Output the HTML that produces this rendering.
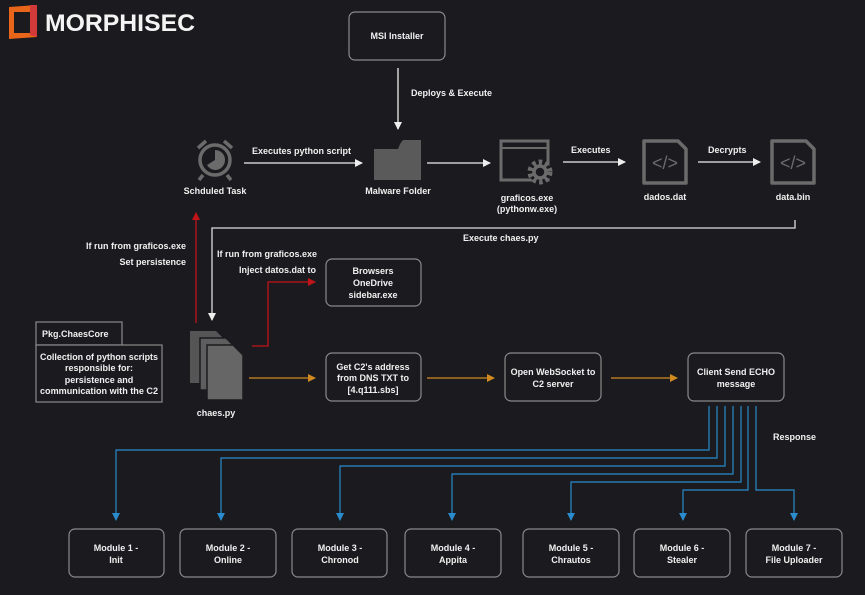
<!DOCTYPE html>
<html><head><meta charset="utf-8"><style>
html,body{margin:0;padding:0;background:#1b1a1e;}
svg{display:block}
text{font-family:"Liberation Sans",sans-serif;fill:#f0f0f0;font-size:9px;font-weight:bold;}
.b{fill:#1b1a1e;stroke:#8a8a8a;stroke-width:1.2}
.c{text-anchor:middle}
</style></head><body>
<svg width="865" height="595" viewBox="0 0 865 595" xmlns="http://www.w3.org/2000/svg">
<defs>
<marker id="aw" markerWidth="8" markerHeight="8" refX="7" refY="4" orient="auto" markerUnits="userSpaceOnUse"><path d="M0,0 L8,4 L0,8z" fill="#eee"/></marker>
<marker id="ar" markerWidth="8" markerHeight="8" refX="7" refY="4" orient="auto" markerUnits="userSpaceOnUse"><path d="M0,0 L8,4 L0,8z" fill="#c0141a"/></marker>
<marker id="ao" markerWidth="8" markerHeight="8" refX="7" refY="4" orient="auto" markerUnits="userSpaceOnUse"><path d="M0,0 L8,4 L0,8z" fill="#d08a20"/></marker>
<marker id="ab" markerWidth="8" markerHeight="8" refX="7" refY="4" orient="auto" markerUnits="userSpaceOnUse"><path d="M0,0 L8,4 L0,8z" fill="#2a8ccc"/></marker>
</defs>
<rect width="865" height="595" fill="#1b1a1e"/>
<!-- logo -->
<path d="M9,7 L37,5 L37,37 L9,39z" fill="#e8651a"/>
<rect x="14" y="12" width="18" height="21" fill="#1b1a1e"/>
<path d="M30,5 L37,5 L37,37 L30,35z" fill="#d23a3a"/>
<text x="45" y="31" textLength="150" lengthAdjust="spacingAndGlyphs" style="font-size:24px;font-weight:bold;fill:#f4f4f4">MORPHISEC</text>

<!-- MSI -->
<rect class="b" x="349" y="12" width="96" height="48" rx="6"/>
<text class="c" x="397" y="39">MSI Installer</text>
<line x1="398" y1="68" x2="398" y2="129" stroke="#eee" stroke-width="1.3" marker-end="url(#aw)"/>
<text x="411" y="96">Deploys &amp; Execute</text>

<!-- clock -->
<g stroke="#6b6b6b" stroke-width="3.5" fill="none">
<circle cx="215" cy="160" r="15"/>
<path d="M198,148 L206,141 M232,148 L224,141 M203,175 L199,180 M227,175 L231,180"/>
</g>
<path d="M215,150 A10,10 0 0 1 215,170 A10,10 0 0 1 207,165 L215,160z" fill="#6b6b6b"/>
<text class="c" x="215" y="194">Schduled Task</text>
<line x1="244" y1="163" x2="362" y2="163" stroke="#eee" stroke-width="1.3" marker-end="url(#aw)"/>
<text x="252" y="154">Executes python script</text>

<!-- folder -->
<path d="M374,149 L421,149 L421,180 L374,180z" fill="#5a5a5a"/>
<path d="M400,144 L403,140 L421,140 L421,149 L398,149z" fill="#5a5a5a"/>
<text class="c" x="398" y="194">Malware Folder</text>
<line x1="427" y1="163" x2="490" y2="163" stroke="#eee" stroke-width="1.3" marker-end="url(#aw)"/>

<!-- graficos -->
<rect x="501" y="141" width="47" height="39" fill="none" stroke="#6b6b6b" stroke-width="3"/>
<line x1="501" y1="148" x2="548" y2="148" stroke="#6b6b6b" stroke-width="2"/>
<circle cx="540" cy="172" r="11" fill="#1b1a1e"/>
<circle cx="540" cy="172" r="10" fill="none" stroke="#6b6b6b" stroke-width="5" stroke-dasharray="3.5 3"/>
<circle cx="540" cy="172" r="6" fill="none" stroke="#6b6b6b" stroke-width="3.5"/>
<text class="c" x="527" y="201">graficos.exe</text>
<text class="c" x="527" y="212">(pythonw.exe)</text>
<line x1="563" y1="162" x2="625" y2="162" stroke="#eee" stroke-width="1.3" marker-end="url(#aw)"/>
<text x="571" y="153">Executes</text>

<!-- dados -->
<path d="M644,141 L678,141 L686,149 L686,183 L644,183z" fill="none" stroke="#6b6b6b" stroke-width="3.5" stroke-linejoin="round"/>
<text class="c" x="665" y="169" style="fill:#6b6b6b;font-size:18px;font-weight:normal">&lt;/&gt;</text>
<text class="c" x="665" y="200">dados.dat</text>
<line x1="698" y1="162" x2="760" y2="162" stroke="#eee" stroke-width="1.3" marker-end="url(#aw)"/>
<text x="708" y="153">Decrypts</text>

<!-- data.bin -->
<path d="M772,141 L806,141 L814,149 L814,183 L772,183z" fill="none" stroke="#6b6b6b" stroke-width="3.5" stroke-linejoin="round"/>
<text class="c" x="793" y="169" style="fill:#6b6b6b;font-size:18px;font-weight:normal">&lt;/&gt;</text>
<text class="c" x="793" y="200">data.bin</text>

<!-- Execute chaes.py -->
<path d="M795,220 L795,228 L212,228 L212,320" fill="none" stroke="#ddd" stroke-width="1.3" marker-end="url(#aw)"/>
<text x="463" y="241">Execute chaes.py</text>

<!-- red -->
<line x1="196" y1="323" x2="196" y2="213" stroke="#c0141a" stroke-width="1.3" marker-end="url(#ar)"/>
<text x="186" y="249" style="text-anchor:end">If run from graficos.exe</text>
<text x="186" y="265" style="text-anchor:end">Set persistence</text>
<path d="M252,346 L268,346 L268,282 L315,282" fill="none" stroke="#c0141a" stroke-width="1.3" marker-end="url(#ar)"/>
<text x="317" y="257" style="text-anchor:end">If run from graficos.exe</text>
<text x="316" y="273" style="text-anchor:end">Inject datos.dat to</text>
<rect class="b" x="326" y="259" width="95" height="47" rx="6"/>
<text class="c" x="373" y="274">Browsers</text>
<text class="c" x="373" y="286">OneDrive</text>
<text class="c" x="373" y="298">sidebar.exe</text>

<!-- pkg -->
<rect class="b" x="36" y="322" width="86" height="23"/>
<text x="42" y="337">Pkg.ChaesCore</text>
<rect class="b" x="36" y="345" width="126" height="57"/>
<text class="c" x="99" y="360" textLength="118" lengthAdjust="spacingAndGlyphs">Collection of python scripts</text>
<text class="c" x="99" y="371">responsible for:</text>
<text class="c" x="99" y="383">persistence and</text>
<text class="c" x="99" y="394" textLength="118" lengthAdjust="spacingAndGlyphs">communication with the C2</text>

<!-- chaes icon -->
<path d="M190,331 L216,331 L222,337 L222,383 L190,383z" fill="#555"/>
<path d="M200,338 L226,338 L232,344 L232,390 L200,390z" fill="#5e5e5e" stroke="#1b1a1e" stroke-width="1.5"/>
<path d="M207,345 L233,345 L243,355 L243,400 L207,400z" fill="#666" stroke="#1b1a1e" stroke-width="1.5"/>
<text class="c" x="216" y="416">chaes.py</text>

<!-- middle row -->
<line x1="249" y1="378" x2="315" y2="378" stroke="#d08a20" stroke-width="1.3" marker-end="url(#ao)"/>
<rect class="b" x="326" y="353" width="95" height="48" rx="6"/>
<text class="c" x="373" y="370">Get C2's address</text>
<text class="c" x="373" y="381">from DNS TXT to</text>
<text class="c" x="373" y="393">[4.q111.sbs]</text>
<line x1="427" y1="378" x2="494" y2="378" stroke="#d08a20" stroke-width="1.3" marker-end="url(#ao)"/>
<rect class="b" x="505" y="353" width="96" height="48" rx="6"/>
<text class="c" x="553" y="375">Open WebSocket to</text>
<text class="c" x="553" y="387">C2 server</text>
<line x1="611" y1="378" x2="677" y2="378" stroke="#d08a20" stroke-width="1.3" marker-end="url(#ao)"/>
<rect class="b" x="688" y="353" width="96" height="48" rx="6"/>
<text class="c" x="736" y="375">Client Send ECHO</text>
<text class="c" x="736" y="387">message</text>
<text x="773" y="440">Response</text>

<!-- blue -->
<g fill="none" stroke="#2a8ccc" stroke-width="1.2">
<path d="M709,406 L709,450 L116,450 L116,520" marker-end="url(#ab)"/>
<path d="M717,406 L717,458 L221,458 L221,520" marker-end="url(#ab)"/>
<path d="M725,406 L725,466 L340,466 L340,520" marker-end="url(#ab)"/>
<path d="M733,406 L733,474 L452,474 L452,520" marker-end="url(#ab)"/>
<path d="M741,406 L741,482 L571,482 L571,520" marker-end="url(#ab)"/>
<path d="M748,406 L748,490 L683,490 L683,520" marker-end="url(#ab)"/>
<path d="M756,406 L756,490 L794,490 L794,520" marker-end="url(#ab)"/>
</g>

<!-- modules -->
<rect class="b" x="69" y="529" width="95" height="48" rx="6"/>
<text class="c" x="116" y="551">Module 1 -</text><text class="c" x="116" y="563">Init</text>
<rect class="b" x="180" y="529" width="96" height="48" rx="6"/>
<text class="c" x="228" y="551">Module 2 -</text><text class="c" x="228" y="563">Online</text>
<rect class="b" x="292" y="529" width="95" height="48" rx="6"/>
<text class="c" x="340" y="551">Module 3 -</text><text class="c" x="340" y="563">Chronod</text>
<rect class="b" x="405" y="529" width="96" height="48" rx="6"/>
<text class="c" x="453" y="551">Module 4 -</text><text class="c" x="453" y="563">Appita</text>
<rect class="b" x="523" y="529" width="96" height="48" rx="6"/>
<text class="c" x="571" y="551">Module 5 -</text><text class="c" x="571" y="563">Chrautos</text>
<rect class="b" x="634" y="529" width="96" height="48" rx="6"/>
<text class="c" x="682" y="551">Module 6 -</text><text class="c" x="682" y="563">Stealer</text>
<rect class="b" x="746" y="529" width="96" height="48" rx="6"/>
<text class="c" x="794" y="551">Module 7 -</text><text class="c" x="794" y="563">File Uploader</text>
</svg>
</body></html>
